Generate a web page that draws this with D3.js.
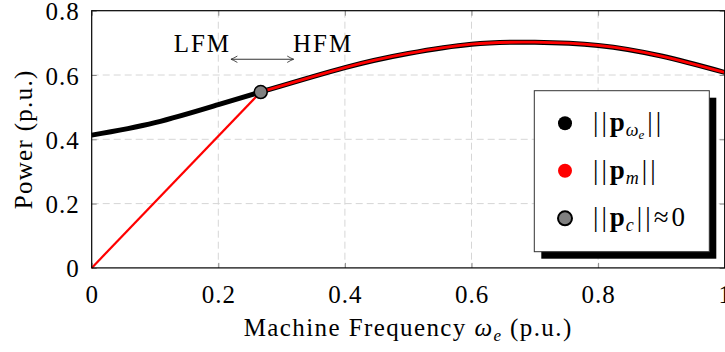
<!DOCTYPE html>
<html>
<head>
<meta charset="utf-8">
<script src="https://cdn.jsdelivr.net/npm/d3@7"></script>
<style>
  html, body { margin: 0; padding: 0; background: #fff; }
  svg text { font-family: "Liberation Serif", "Times New Roman", serif; fill: #000; }
</style>
</head>
<body>
<svg id="chart" width="725" height="352"></svg>
<script>
// Machine frequency (p.u.) samples and the electrical power curve ||p_we||
const freq = [0, 0.1, 0.2, 0.267, 0.4, 0.5, 0.6, 0.7, 0.8, 0.9, 1.0];
const powerWe = [0.413, 0.452, 0.508, 0.547, 0.623, 0.667, 0.696, 0.702, 0.692, 0.659, 0.608];
// Mechanical power ||p_m||: linear ramp in LFM up to the transition point, then equal to ||p_we||
const freqM = [0, 0.267, 0.4, 0.5, 0.6, 0.7, 0.8, 0.9, 1.0];
const powerM = [0, 0.547, 0.623, 0.667, 0.696, 0.702, 0.692, 0.659, 0.608];
// Transition point where ||p_c|| ~ 0
const transition = { f: 0.267, p: 0.547 };
const xTicks = [0, 0.2, 0.4, 0.6, 0.8, 1];
const yTicks = [0, 0.2, 0.4, 0.6, 0.8];
const tickLabelsX = ["0", "0.2", "0.4", "0.6", "0.8", "1"];
const tickLabelsY = ["0", "0.2", "0.4", "0.6", "0.8"];

const serif = "'Liberation Serif', 'Times New Roman', serif";
const svg = d3.select("#chart");
const plotL = 91.7, plotR = 724.7, plotT = 10.7, plotB = 267.9;

const x = d3.scaleLinear().domain([0, 1]).range([plotL, plotR]);
const y = d3.scaleLinear().domain([0, 0.8]).range([plotB, plotT]);

// Dashed grid
const grid = svg.append("g");
grid.selectAll("line.gx").data(xTicks.filter(d => d > 0 && d < 1)).join("line")
  .attr("x1", d => x(d)).attr("x2", d => x(d)).attr("y1", plotT).attr("y2", plotB)
  .attr("stroke", "#d6d6d6").attr("stroke-width", 1).attr("stroke-dasharray", "7,4");
grid.selectAll("line.gy").data(yTicks.filter(d => d > 0 && d < 0.8)).join("line")
  .attr("x1", plotL).attr("x2", plotR).attr("y1", d => y(d)).attr("y2", d => y(d))
  .attr("stroke", "#d6d6d6").attr("stroke-width", 1).attr("stroke-dasharray", "7,4");

// Axes with inward ticks
const fmtX = (d, i) => tickLabelsX[i];
const fmtY = (d, i) => tickLabelsY[i];
const axB = svg.append("g").attr("transform", `translate(0,${plotB})`)
  .call(d3.axisBottom(x).tickValues(xTicks).tickFormat(fmtX).tickSizeInner(-5).tickSizeOuter(0).tickPadding(17));
const axT = svg.append("g").attr("transform", `translate(0,${plotT})`)
  .call(d3.axisTop(x).tickValues(xTicks).tickFormat("").tickSizeInner(-5).tickSizeOuter(0));
const axL = svg.append("g").attr("transform", `translate(${plotL},0)`)
  .call(d3.axisLeft(y).tickValues(yTicks).tickFormat(fmtY).tickSizeInner(-5).tickSizeOuter(0).tickPadding(12));
const axR = svg.append("g").attr("transform", `translate(${plotR},0)`)
  .call(d3.axisRight(y).tickValues(yTicks).tickFormat("").tickSizeInner(-5).tickSizeOuter(0));
[axB, axT, axL, axR].forEach(a => {
  a.select(".domain").remove();
  a.selectAll(".tick line").attr("stroke", "#8a8a8a");
  a.selectAll("text").style("font-family", serif).style("font-size", "25px")
    .style("letter-spacing", "1px").attr("fill", "#000");
});
axL.selectAll("text").attr("dy", "0.36em");

// Curves
const lineSmooth = d3.line().x(d => x(d[0])).y(d => y(d[1])).curve(d3.curveNatural);
const lineStraight = d3.line().x(d => x(d[0])).y(d => y(d[1]));
const weData = freq.map((f, i) => [f, powerWe[i]]);
const mData = freqM.map((f, i) => [f, powerM[i]]);

svg.append("path").datum(weData).attr("d", lineSmooth)
  .attr("fill", "none").attr("stroke", "#000").attr("stroke-width", 5).attr("stroke-linejoin", "round");
svg.append("path").datum(mData.slice(0, 2)).attr("d", lineStraight)
  .attr("fill", "none").attr("stroke", "#ff0000").attr("stroke-width", 2.2);
// HFM part of ||p_m|| traces the same spline as ||p_we||, clipped at the transition
svg.append("clipPath").attr("id", "hfm").append("rect")
  .attr("x", x(transition.f)).attr("y", 0).attr("width", plotR - x(transition.f)).attr("height", plotB);
svg.append("path").datum(weData).attr("d", lineSmooth)
  .attr("fill", "none").attr("stroke", "#ff0000").attr("stroke-width", 2.8)
  .attr("clip-path", "url(#hfm)");

// Frame
svg.append("rect").attr("x", plotL).attr("y", plotT).attr("width", plotR - plotL).attr("height", plotB - plotT)
  .attr("fill", "none").attr("stroke", "#000").attr("stroke-width", 1.2);

// Transition marker
svg.append("circle").attr("cx", x(transition.f)).attr("cy", y(transition.p)).attr("r", 6.5)
  .attr("fill", "#808080").attr("stroke", "#000").attr("stroke-width", 1.6);

// LFM / HFM annotation
const defs = svg.append("defs");
defs.append("marker").attr("id", "head").attr("viewBox", "0 0 10 10").attr("refX", 9).attr("refY", 5)
  .attr("markerWidth", 8).attr("markerHeight", 8).attr("markerUnits", "userSpaceOnUse").attr("orient", "auto-start-reverse")
  .append("path").attr("d", "M1,1 Q6,4 9,5 Q6,6 1,9").attr("fill", "none").attr("stroke", "#333").attr("stroke-width", 1.1);
const arrowY = 0.649;
svg.append("line").attr("x1", x(0.220)).attr("x2", x(0.319)).attr("y1", y(arrowY)).attr("y2", y(arrowY))
  .attr("stroke", "#333").attr("stroke-width", 1.1)
  .attr("marker-start", "url(#head)").attr("marker-end", "url(#head)");
svg.append("text").attr("x", x(0.217) + 2).attr("y", y(arrowY) - 7).attr("text-anchor", "end")
  .style("font-family", serif).style("font-size", "25px").style("letter-spacing", "2px").text("LFM");
svg.append("text").attr("x", x(0.318)).attr("y", y(arrowY) - 7).attr("text-anchor", "start")
  .style("font-family", serif).style("font-size", "25px").style("letter-spacing", "2px").text("HFM");

// Axis titles
const xt = svg.append("text").attr("x", (plotL + plotR) / 2).attr("y", 336).attr("text-anchor", "middle")
  .style("font-family", serif).style("font-size", "25px").style("letter-spacing", "1.4px");
xt.append("tspan").text("Machine Frequency ");
xt.append("tspan").style("font-style", "italic").text("ω");
xt.append("tspan").style("font-style", "italic").style("font-size", "17px").attr("dy", 5).text("e");
xt.append("tspan").attr("dy", -5).text("  (p.u.)");

svg.append("text").attr("transform", `translate(32,${(plotT + plotB) / 2}) rotate(-90)`)
  .attr("text-anchor", "middle").style("font-family", serif).style("font-size", "25px")
  .style("letter-spacing", "1.3px").text("Power (p.u.)");

// Legend
const lg = svg.append("g");
const box = { x: 534.3, y: 90.7, w: 175, h: 161 };
lg.append("rect").attr("x", box.x + 7).attr("y", box.y + 7).attr("width", box.w).attr("height", box.h).attr("fill", "#000");
lg.append("rect").attr("x", box.x).attr("y", box.y).attr("width", box.w).attr("height", box.h)
  .attr("fill", "#fff").attr("stroke", "#333").attr("stroke-width", 1);

const legendRows = [
  { fill: "#000", stroke: "none", cy: 123.3, sub: "ω", subsub: "e", tail: "||" },
  { fill: "#ff0000", stroke: "none", cy: 170.7, sub: "m", subsub: null, tail: "||" },
  { fill: "#808080", stroke: "#000", cy: 218.3, sub: "c", subsub: null, tail: "||≈0" }
];
legendRows.forEach(r => {
  lg.append("circle").attr("cx", 565).attr("cy", r.cy).attr("r", 7)
    .attr("fill", r.fill).attr("stroke", r.stroke).attr("stroke-width", r.stroke === "none" ? 0 : 2);
  const t = lg.append("text").attr("x", 593).attr("y", r.cy + 8)
    .style("font-family", serif).style("font-size", "27px");
  t.append("tspan").style("letter-spacing", "3px").text("||");
  t.append("tspan").style("font-weight", "bold").style("letter-spacing", "1px").text("p");
  t.append("tspan").style("font-style", "italic").style("font-size", "18px").attr("dy", 5).text(r.sub);
  if (r.subsub) {
    t.append("tspan").style("font-style", "italic").style("font-size", "13px").attr("dy", 3).text(r.subsub);
    t.append("tspan").attr("dy", -8).attr("dx", 3).style("letter-spacing", "3px").text(r.tail);
  } else {
    t.append("tspan").attr("dy", -5).attr("dx", 3).style("letter-spacing", "3px").text(r.tail);
  }
});
</script>
</body>
</html>
